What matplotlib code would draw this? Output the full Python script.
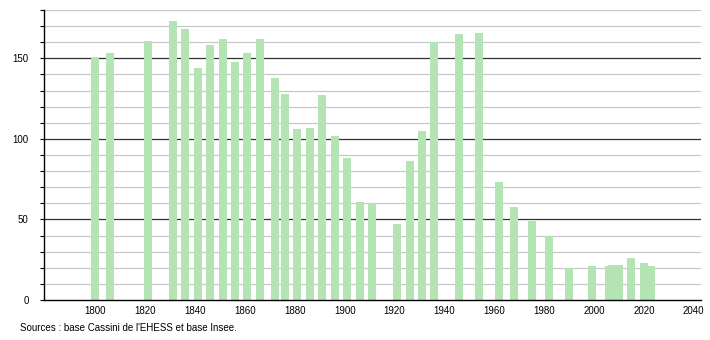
import matplotlib
matplotlib.use("Agg")
import matplotlib.pyplot as plt
import numpy as np

years = [1800, 1806, 1821, 1831, 1836, 1841, 1846, 1851, 1856, 1861, 1866,
         1872, 1876, 1881, 1886, 1891, 1896, 1901, 1906, 1911, 1921, 1926,
         1931, 1936, 1946, 1954, 1962, 1968, 1975, 1982, 1990, 1999, 2006,
         2007, 2008, 2009, 2010, 2015, 2020, 2023]
population = [151, 153, 161, 173, 168, 144, 158, 162, 148, 153, 162,
              138, 128, 106, 107, 127, 102, 88, 61, 60, 47, 86,
              105, 160, 165, 166, 73, 58, 49, 40, 20, 21, 21,
              22, 22, 22, 22, 26, 23, 21]
x_ticks = [1800, 1820, 1840, 1860, 1880, 1900, 1920, 1940, 1960, 1980, 2000, 2020, 2040]
y_major = [0, 50, 100, 150]
source = "Sources : base Cassini de l'EHESS et base Insee."

plt.rcParams['font.family'] = ['Liberation Sans', 'DejaVu Sans']

fig = plt.figure(figsize=(7.1, 3.4), dpi=100)
ax = fig.add_axes([0.062, 0.1176, 0.925, 0.853])

# light grid every 10, dark grid on the 50s
for v in range(10, 181, 10):
    if v % 50 == 0:
        ax.axhline(v, color='#333333', lw=0.9, zorder=1)
    else:
        ax.axhline(v, color='#c8c8c8', lw=0.9, zorder=1)

ax.bar(years, population, width=3.2, color='#b4e4b4', zorder=2)

ax.set_xlim(1779.4, 2042.8)
ax.set_ylim(0, 180)

ax.set_xticks(x_ticks)
ax.set_xticklabels([str(t) for t in x_ticks], fontsize=7)
ax.tick_params(axis='x', length=0, pad=4)

ax.set_yticks(y_major)
ax.set_yticks(np.arange(0, 181, 10), minor=True)
ax.set_yticklabels([str(t) for t in y_major], fontsize=7)
ax.tick_params(axis='y', which='both', length=3, width=0.8, pad=8, direction='out')

for s in ['top', 'right']:
    ax.spines[s].set_visible(False)
ax.spines['left'].set_linewidth(1.0)
ax.spines['bottom'].set_linewidth(1.0)

fig.text(0.028, 0.035, source, fontsize=7, ha='left', va='center')

fig.savefig('out.png', dpi=100)
